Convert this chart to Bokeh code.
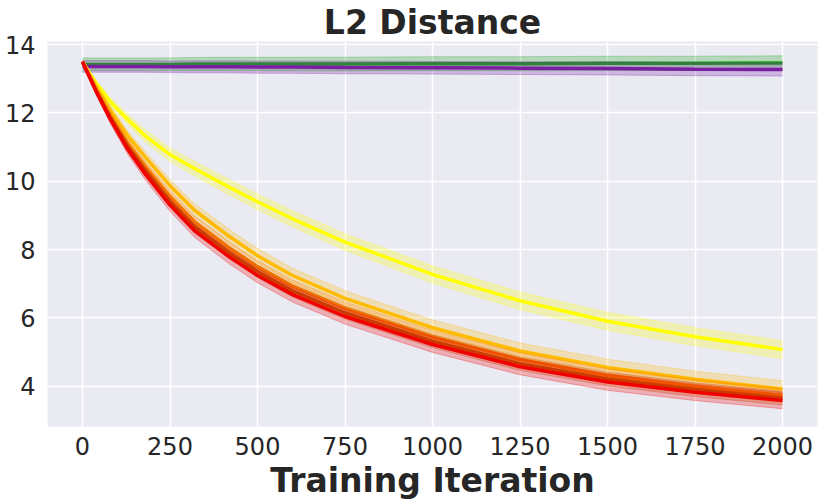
from bokeh.plotting import figure
from bokeh.models import Range1d, FixedTicker
from bokeh.embed import file_html
from bokeh.resources import INLINE

# ---- data ----
iters = [0, 40, 80, 130, 180, 250, 320, 420, 500, 600, 750, 1000, 1250, 1500, 1750, 2000]

green  = [13.42, 13.42, 13.42, 13.42, 13.42, 13.42, 13.43, 13.43, 13.43, 13.43, 13.43, 13.44, 13.44, 13.45, 13.45, 13.46]
purple = [13.36, 13.36, 13.36, 13.36, 13.36, 13.35, 13.35, 13.35, 13.34, 13.34, 13.33, 13.32, 13.31, 13.30, 13.28, 13.27]
yellow = [13.5, 12.85, 12.32, 11.8, 11.32, 10.78, 10.37, 9.82, 9.4, 8.9, 8.22, 7.27, 6.5, 5.9, 5.45, 5.07]
gold   = [13.5, 12.75, 12.07, 11.32, 10.7, 9.87, 9.15, 8.38, 7.82, 7.24, 6.57, 5.71, 5.03, 4.55, 4.2, 3.92]
orange = [13.5, 12.67, 11.92, 11.1, 10.43, 9.56, 8.82, 8.05, 7.5, 6.93, 6.28, 5.44, 4.78, 4.31, 3.99, 3.73]
brown  = [13.5, 12.63, 11.85, 11.0, 10.3, 9.41, 8.67, 7.9, 7.36, 6.79, 6.15, 5.32, 4.66, 4.21, 3.9, 3.65]
red    = [13.5, 12.6, 11.8, 10.92, 10.2, 9.3, 8.55, 7.78, 7.24, 6.68, 6.04, 5.22, 4.57, 4.12, 3.82, 3.58]

# band half-width shape (relative) and per-series size
spread_decay = [0, 0.35, 0.5, 0.6, 0.68, 0.75, 0.8, 0.85, 0.88, 0.9, 0.93, 0.96, 0.98, 1.0, 1.0, 1.0]
spread_flat  = [0.9, 0.9, 0.9, 0.9, 0.9, 0.9, 0.92, 0.93, 0.94, 0.95, 0.96, 0.97, 0.98, 0.99, 1.0, 1.0]

series = [
    ("green",  green,  "#17A517", 0.21, spread_flat),
    ("purple", purple, "#7B1FA2", 0.19, spread_flat),
    ("yellow", yellow, "#FFFF00", 0.26, spread_decay),
    ("gold",   gold,   "#FFBB00", 0.24, spread_decay),
    ("orange", orange, "#FF7F00", 0.20, spread_decay),
    ("brown",  brown,  "#C24E00", 0.20, spread_decay),
    ("red",    red,    "#F00000", 0.24, spread_decay),
]

x_ticks = [0, 250, 500, 750, 1000, 1250, 1500, 1750, 2000]
y_ticks = [4, 6, 8, 10, 12, 14]

TXT = "#262626"
FONT = "DejaVu Sans"

p = figure(width=830, height=503, output_backend="svg", toolbar_location=None,
           x_range=Range1d(-100, 2100), y_range=Range1d(2.82, 14.09),
           min_border_left=47, min_border_right=13, min_border_top=36, min_border_bottom=77)

p.title.text = "L2 Distance"
p.title.align = "center"
p.title.text_font = FONT
p.title.text_font_size = "33px"
p.title.text_font_style = "bold"
p.title.text_color = TXT
p.title.standoff = 0
p.title.offset = 0

p.background_fill_color = "#EAEAF2"
p.border_fill_color = "white"
p.outline_line_color = None

for ax in (p.xaxis, p.yaxis):
    ax.axis_line_color = None
    ax.major_tick_line_color = None
    ax.minor_tick_line_color = None
    ax.major_tick_out = 0
    ax.major_tick_in = 0
    ax.major_label_text_font = FONT
    ax.major_label_text_font_size = "24px"
    ax.major_label_text_color = TXT

p.xaxis.ticker = FixedTicker(ticks=x_ticks)
p.yaxis.ticker = FixedTicker(ticks=y_ticks)
p.xaxis.major_label_standoff = 10
p.yaxis.major_label_standoff = 12

p.xaxis.axis_label = "Training Iteration"
p.xaxis.axis_label_text_font = FONT
p.xaxis.axis_label_text_font_size = "33px"
p.xaxis.axis_label_text_font_style = "bold"
p.xaxis.axis_label_text_color = TXT
p.xaxis.axis_label_standoff = 3

p.grid.grid_line_color = "white"
p.grid.grid_line_width = 1.6

for name, vals, col, hw, spr in series:
    lo = [v - hw * s for v, s in zip(vals, spr)]
    hi = [v + hw * s for v, s in zip(vals, spr)]
    p.varea(x=iters, y1=lo, y2=hi, fill_color=col, fill_alpha=0.25)
    p.line(x=iters, y=lo, line_color=col, line_alpha=0.3, line_width=1)
    p.line(x=iters, y=hi, line_color=col, line_alpha=0.3, line_width=1)
    p.line(x=iters, y=vals, line_color=col, line_width=3.5)

open("out.html", "w").write(file_html(p, INLINE))
